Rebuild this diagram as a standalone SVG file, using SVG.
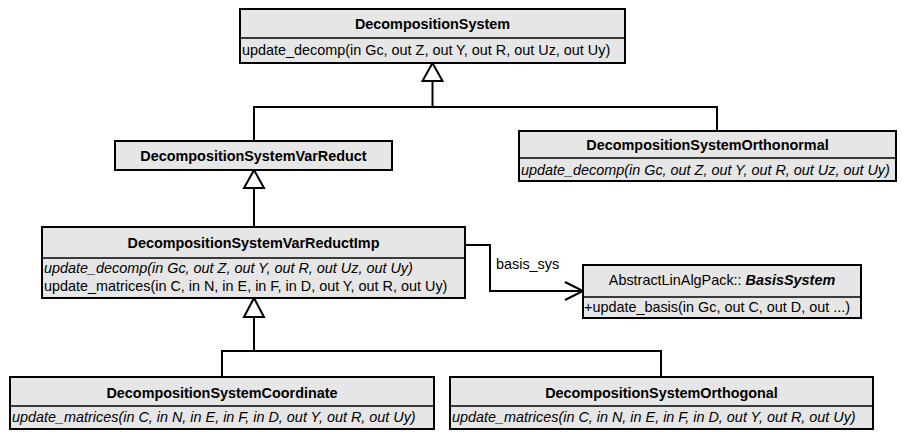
<svg xmlns="http://www.w3.org/2000/svg" width="902" height="432" viewBox="0 0 902 432">
  <style>
    .box { fill: #e6e6e6; stroke: #000; stroke-width: 2; }
    .sep { stroke: #000; stroke-width: 1.5; }
    .t { font-family: "Liberation Sans", Arial, sans-serif; font-size: 14.4px; fill: #000; }
    .title { font-weight: bold; text-anchor: middle; }
    .it { font-style: italic; }
    .edge { fill: none; stroke: #000; stroke-width: 2; }
    .tri { fill: #fff; stroke: #000; stroke-width: 2; stroke-linejoin: miter; }
  </style>

  <g id="connectors">
    <!-- DecompositionSystem generalization -->
    <polyline class="edge" points="254,141 254,107 717,107 717,131"/>
    <line class="edge" x1="432.5" y1="81" x2="432.5" y2="107"/>
    <polygon class="tri" points="432.5,63 442.5,81 422.5,81"/>
    <!-- DecompositionSystemVarReduct generalization -->
    <line class="edge" x1="254" y1="188" x2="254" y2="227"/>
    <polygon class="tri" points="254,170 264,188 244,188"/>
    <!-- DecompositionSystemVarReductImp generalization -->
    <line class="edge" x1="254" y1="317" x2="254" y2="351"/>
    <polyline class="edge" points="222,377 222,351 661,351 661,377"/>
    <polygon class="tri" points="254,298 264,317 244,317"/>
    <!-- basis_sys association -->
    <polyline class="edge" points="465,245 490,245 490,291 582,291"/>
    <polyline class="edge" points="565,282 583,291 565,300"/>
    <text class="t" x="496" y="269">basis_sys</text>
  </g>

  <g id="DecompositionSystem">
    <rect class="box" x="240" y="9" width="385" height="54"/>
    <line class="sep" x1="240" y1="38" x2="625" y2="38"/>
    <text class="t title" x="432.5" y="28.5">DecompositionSystem</text>
    <text class="t" x="242" y="55">update_decomp(in Gc, out Z, out Y, out R, out Uz, out Uy)</text>
  </g>

  <g id="DecompositionSystemVarReduct">
    <rect class="box" x="115" y="141" width="277" height="29"/>
    <text class="t title" x="253.5" y="161">DecompositionSystemVarReduct</text>
  </g>

  <g id="DecompositionSystemOrthonormal">
    <rect class="box" x="519" y="131" width="377" height="50"/>
    <line class="sep" x1="519" y1="158" x2="896" y2="158"/>
    <text class="t title" x="707.5" y="149.5">DecompositionSystemOrthonormal</text>
    <text class="t it" x="521" y="175">update_decomp(in Gc, out Z, out Y, out R, out Uz, out Uy)</text>
  </g>

  <g id="DecompositionSystemVarReductImp">
    <rect class="box" x="42" y="227" width="423" height="71"/>
    <line class="sep" x1="42" y1="258" x2="465" y2="258"/>
    <text class="t title" x="253.5" y="248">DecompositionSystemVarReductImp</text>
    <text class="t it" x="44" y="273">update_decomp(in Gc, out Z, out Y, out R, out Uz, out Uy)</text>
    <text class="t" x="44" y="291">update_matrices(in C, in N, in E, in F, in D, out Y, out R, out Uy)</text>
  </g>

  <g id="BasisSystem">
    <rect class="box" x="583" y="265" width="278" height="53"/>
    <line class="sep" x1="583" y1="297" x2="861" y2="297"/>
    <text class="t" x="722" y="285" text-anchor="middle">AbstractLinAlgPack:: <tspan font-weight="bold" font-style="italic">BasisSystem</tspan></text>
    <text class="t" x="584" y="312">+update_basis(in Gc, out C, out D, out ...)</text>
  </g>

  <g id="DecompositionSystemCoordinate">
    <rect class="box" x="10" y="377" width="424" height="52"/>
    <line class="sep" x1="10" y1="406" x2="434" y2="406"/>
    <text class="t title" x="222" y="397.5">DecompositionSystemCoordinate</text>
    <text class="t it" x="12" y="422">update_matrices(in C, in N, in E, in F, in D, out Y, out R, out Uy)</text>
  </g>

  <g id="DecompositionSystemOrthogonal">
    <rect class="box" x="450" y="377" width="423" height="52"/>
    <line class="sep" x1="450" y1="406" x2="873" y2="406"/>
    <text class="t title" x="661.5" y="397.5">DecompositionSystemOrthogonal</text>
    <text class="t it" x="452" y="422">update_matrices(in C, in N, in E, in F, in D, out Y, out R, out Uy)</text>
  </g>
</svg>
